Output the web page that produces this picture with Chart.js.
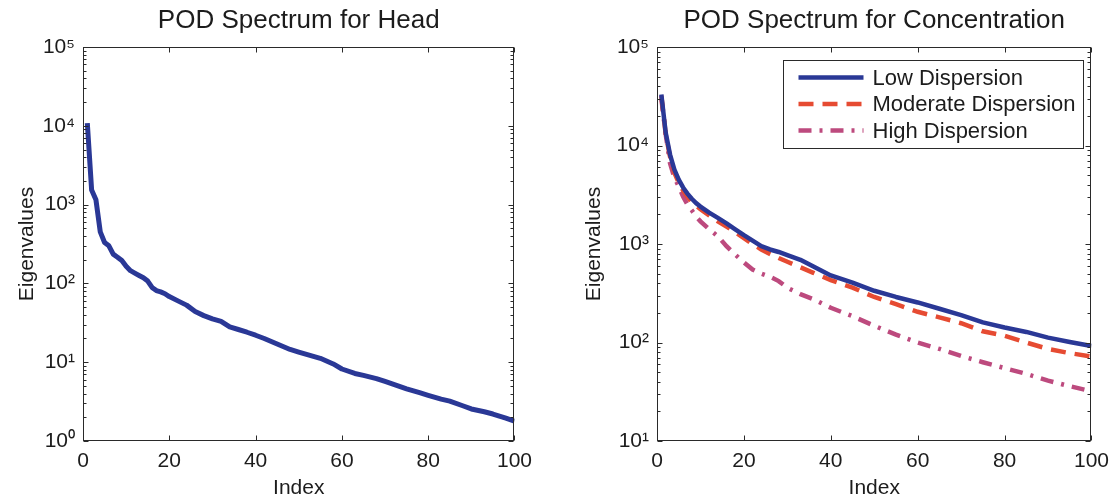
<!DOCTYPE html>
<html>
<head>
<meta charset="utf-8">
<script src="https://cdn.jsdelivr.net/npm/chart.js@4/dist/chart.umd.min.js"></script>
<style>
body{margin:0;background:#fff;width:1117px;height:502px;overflow:hidden;position:relative}
.panel{position:absolute;top:0;height:502px}
</style>
</head>
<body>

<div class="panel" style="left:0;width:540px"><canvas id="headChart"></canvas></div>
<div class="panel" style="left:560px;width:557px"><canvas id="concChart"></canvas></div>

<script>

// values
const headIndex=[1,2,3,4,5,6,7,8,9,10,11,12,13,14,15,16,17,18,19,20,22,24,26,28,30,32,34,36,38,40,42,45,48,50,53,55,58,60,63,65,68,70,73,75,78,80,83,85,88,90,93,95,98,100]
const headValues=[10800,1530,1150,450,330,300,235,215,195,165,145,135,126,118,107,89,81,78,74,68,60,53,44,39,35.5,33,28,26,24,22,20,17,14.5,13.4,12,11.2,9.5,8.2,7.2,6.8,6.2,5.7,5.0,4.6,4.1,3.8,3.4,3.2,2.8,2.55,2.35,2.2,1.95,1.78]

const concIndex=[1,2,3,4,5,6,7,8,9,10,12,14,16,18,20,22,24,26,28,30,33,36,40,45,50,55,60,65,70,75,80,85,90,95,100]
const lowValues=[33000,13500,8100,5700,4500,3750,3250,2880,2600,2400,2080,1840,1620,1410,1230,1080,950,880,830,770,690,590,480,405,335,290,255,220,190,160,142,128,112,101,92]
const moderateValues=[32000,13000,7700,5300,4200,3500,3050,2650,2450,2250,1950,1700,1500,1320,1150,1000,880,790,720,660,580,510,430,360,290,245,205,180,157,130,117,100,86,78,72]
const highValues=[30000,13000,6600,4700,3850,3040,2520,2200,1900,1700,1410,1200,950,780,650,550,500,465,420,360,310,275,225,185,148,120,100,86,73,63,55,48,41,36,32]

const seriesNames=["Low Dispersion","Moderate Dispersion","High Dispersion"]

const headDecades=[1,10,100,1000,10000,100000]
const concDecades=[10,100,1000,10000,100000]

const sup={0:"\u2070",1:"\u00b9",2:"\u00b2",3:"\u00b3",4:"\u2074",5:"\u2075"}

const fontName="'Liberation Sans', Arial, sans-serif"
const ink="#1c1c1c"

function points(xs,ys){
return xs.map((x,i)=>({x:x,y:ys[i]}))
}

// box, inward ticks, title and legend the way matlab draws them
const matlabBox={
id:"matlabBox",
afterDraw(chart,args,opts){

const ctx=chart.ctx
const a=chart.chartArea
const xs=chart.scales.x
const ys=chart.scales.y

ctx.save()
ctx.strokeStyle="#2a2a2a"
ctx.lineWidth=1
ctx.setLineDash([])

const L=Math.round(a.left)+0.5
const R=Math.round(a.right)-0.5
const T=Math.round(a.top)+0.5
const B=Math.round(a.bottom)-0.5

ctx.strokeRect(L,T,R-L,B-T)

ctx.beginPath()

xs.ticks.forEach(t=>{
let px=Math.round(xs.getPixelForValue(t.value))+0.5
ctx.moveTo(px,B);ctx.lineTo(px,B-5)
ctx.moveTo(px,T);ctx.lineTo(px,T+5)
})

ys.ticks.forEach(t=>{
let py=Math.round(ys.getPixelForValue(t.value))+0.5
ctx.moveTo(L,py);ctx.lineTo(L+5,py)
ctx.moveTo(R,py);ctx.lineTo(R-5,py)
})

for(let d=ys.min;d<ys.max;d*=10){
for(let k=2;k<10;k++){
let py=Math.round(ys.getPixelForValue(k*d))+0.5
ctx.moveTo(L,py);ctx.lineTo(L+3,py)
ctx.moveTo(R,py);ctx.lineTo(R-3,py)
}
}

ctx.stroke()

ctx.fillStyle=ink
ctx.font="26px "+fontName
ctx.textAlign="center"
ctx.textBaseline="middle"
ctx.fillText(opts.title,(a.left+a.right)/2,21)

if(opts.legend){

const bx=Math.round(a.right)-307.5
const by=Math.round(a.top)+13.5
const bw=300
const bh=88

ctx.fillStyle="#fff"
ctx.fillRect(bx,by,bw,bh)
ctx.strokeStyle="#2a2a2a"
ctx.lineWidth=1
ctx.strokeRect(bx,by,bw,bh)

ctx.font="22px "+fontName
ctx.textAlign="left"

chart.data.datasets.forEach((ds,i)=>{
let ry=by+17+i*26.5
ctx.beginPath()
ctx.strokeStyle=ds.borderColor
ctx.lineWidth=ds.borderWidth
ctx.setLineDash(ds.borderDash||[])
ctx.moveTo(bx+15,ry)
ctx.lineTo(bx+80,ry)
ctx.stroke()
ctx.fillStyle=ink
ctx.fillText(ds.label,bx+89,ry+1)
})

}

ctx.restore()

}
}

function axisOptions(decades,yWidth,yTitlePad){

return {
x:{
type:"linear",
min:0,
max:100,
grid:{display:false,drawTicks:false},
border:{display:false},
ticks:{stepSize:20,padding:8,color:ink,font:{family:fontName,size:21}},
title:{display:true,text:"Index",color:ink,font:{family:fontName,size:21},padding:{top:0,bottom:1}},
afterFit:function(scale){scale.height=61}
},
y:{
type:"logarithmic",
min:decades[0],
max:decades[decades.length-1],
grid:{display:false,drawTicks:false},
border:{display:false},
afterBuildTicks:function(scale){
scale.ticks=decades.map(v=>({value:v}))
},
ticks:{
padding:8,
color:ink,
font:{family:fontName,size:21},
callback:function(v){return "10"+sup[Math.round(Math.log10(v))]}
},
title:{display:true,text:"Eigenvalues",color:ink,font:{family:fontName,size:21},padding:{top:yTitlePad,bottom:0}},
afterFit:function(scale){scale.width=yWidth}
}
}

}

new Chart(document.getElementById("headChart"),{

type:"line",

data:{
datasets:[{
label:"Head",
data:points(headIndex,headValues),
borderColor:"#2a3896",
borderWidth:5,
pointRadius:0,
tension:0,
borderJoinStyle:"round"
}]
},

options:{
responsive:true,
maintainAspectRatio:false,
animation:false,
layout:{padding:{top:47,right:21,bottom:0,left:0}},
plugins:{
legend:{display:false},
tooltip:{enabled:false},
matlabBox:{title:"POD Spectrum for Head",legend:false}
},
scales:axisOptions(headDecades,83,15)
},

plugins:[matlabBox]

})

new Chart(document.getElementById("concChart"),{

type:"line",

data:{
datasets:[
{
label:seriesNames[0],
data:points(concIndex,lowValues),
borderColor:"#2a3896",
borderWidth:4.5,
pointRadius:0,
tension:0,
borderJoinStyle:"round"
},
{
label:seriesNames[1],
data:points(concIndex,moderateValues),
borderColor:"#e64b32",
borderWidth:4.5,
borderDash:[15,9],
pointRadius:0,
tension:0
},
{
label:seriesNames[2],
data:points(concIndex,highValues),
borderColor:"#bd4a7e",
borderWidth:4.5,
borderDash:[13,8,3,8],
pointRadius:0,
tension:0
}
]
},

options:{
responsive:true,
maintainAspectRatio:false,
animation:false,
layout:{padding:{top:47,right:22,bottom:0,left:0}},
plugins:{
legend:{display:false},
tooltip:{enabled:false},
matlabBox:{title:"POD Spectrum for Concentration",legend:true}
},
scales:axisOptions(concDecades,97,22)
},

plugins:[matlabBox]

})

</script>
</body>
</html>
